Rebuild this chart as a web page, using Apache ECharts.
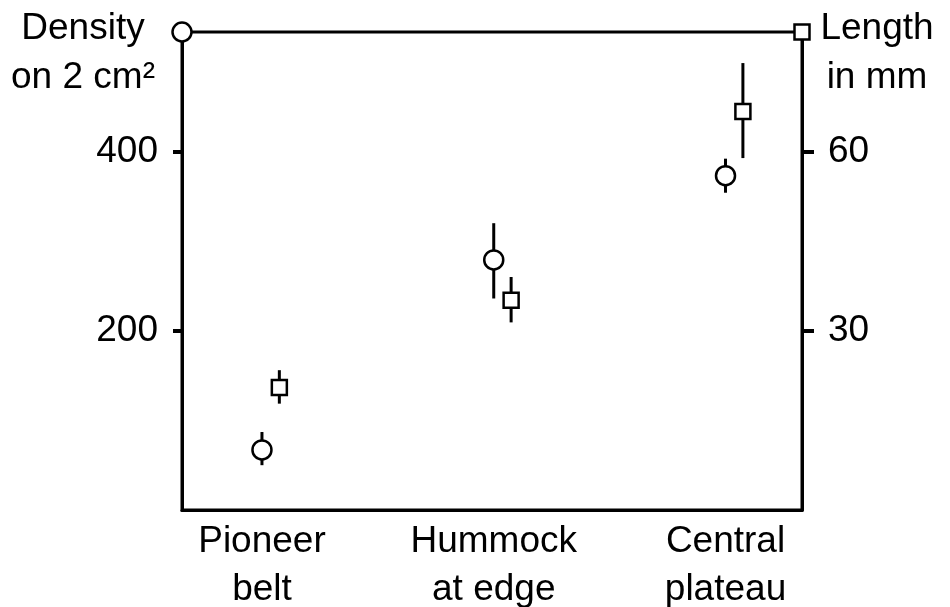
<!DOCTYPE html>
<html>
<head>
<meta charset="utf-8">
<script src="https://cdn.jsdelivr.net/npm/echarts@6/dist/echarts.min.js"></script>
<style>
  html, body { margin: 0; padding: 0; background: #fff; }
  #chart { width: 950px; height: 607px; }
</style>
</head>
<body>
<div id="chart"></div>
<script>
  // sites along the transect
  const categories = ['Pioneer\nbelt', 'Hummock\nat edge', 'Central\nplateau'];
  // density on 2 cm2 (circles), with error range
  const density = [67, 279, 373];
  const densityLow = [50, 236, 354];
  const densityHigh = [87, 320, 392];
  // length in mm (squares), with error range
  const lengthMm = [20.5, 35.1, 66.7];
  const lengthLow = [17.8, 31.4, 58.9];
  const lengthHigh = [23.4, 39.0, 74.8];
  const densityTicks = [200, 400];
  const lengthTicks = [30, 60];

  const X_MIN = -0.345, X_MAX = 2.33;
  const D_MAX = 533.33, L_MAX = 80;
  const SQ_OFFSET = 0.075; // squares sit a bit right of the circles
  const font = 'Liberation Sans, Arial, sans-serif';
  const fs = 37;

  const chart = echarts.init(document.getElementById('chart'));

  const errorBar = (params, api) => {
    const lo = api.coord([api.value(0), api.value(1)]);
    const hi = api.coord([api.value(0), api.value(2)]);
    return {
      type: 'line',
      shape: {x1: lo[0], y1: lo[1], x2: hi[0], y2: hi[1]},
      style: {stroke: '#000', lineWidth: 3}
    };
  };

  const yAxisBase = {
    type: 'value',
    min: 0,
    splitLine: {show: false},
    axisLine: {show: true, onZero: false, lineStyle: {color: '#000', width: 3}},
    axisTick: {show: true, inside: false, lineStyle: {color: '#000', width: 4}},
    axisLabel: {color: '#000', fontFamily: font, fontSize: fs}
  };

  chart.setOption({
    animation: false,
    backgroundColor: '#fff',
    grid: {
      left: 182, right: 148, top: 32, bottom: 97,
      outerBoundsMode: 'none',
      containLabel: false,
      show: true, borderColor: '#000', borderWidth: 3
    },
    xAxis: {
      type: 'value',
      min: X_MIN,
      max: X_MAX,
      splitLine: {show: false},
      axisLine: {show: true, onZero: false, lineStyle: {color: '#000', width: 3}},
      axisTick: {show: false},
      axisLabel: {
        customValues: [0, 1, 2],
        formatter: v => categories[Math.round(v)],
        color: '#000', fontFamily: font, fontSize: fs, lineHeight: 48, margin: 8
      }
    },
    yAxis: [
      Object.assign({}, yAxisBase, {
        position: 'left',
        max: D_MAX,
        axisTick: Object.assign({}, yAxisBase.axisTick, {length: 9, customValues: densityTicks}),
        axisLabel: Object.assign({}, yAxisBase.axisLabel, {customValues: densityTicks, margin: 24})
      }),
      Object.assign({}, yAxisBase, {
        position: 'right',
        max: L_MAX,
        axisTick: Object.assign({}, yAxisBase.axisTick, {length: 12, customValues: lengthTicks}),
        axisLabel: Object.assign({}, yAxisBase.axisLabel, {customValues: lengthTicks, margin: 26})
      })
    ],
    graphic: [
      {
        type: 'text', x: 83, y: 4,
        style: {text: 'Density\non 2 cm²', align: 'center', verticalAlign: 'top', fill: '#000',
          font: fs + 'px ' + font, lineHeight: 49}
      },
      {
        type: 'text', x: 877, y: 4,
        style: {text: 'Length\nin mm', align: 'center', verticalAlign: 'top', fill: '#000',
          font: fs + 'px ' + font, lineHeight: 49}
      }
    ],
    series: [
      {
        type: 'custom', name: 'density err', yAxisIndex: 0, z: 2,
        renderItem: errorBar,
        encode: {x: 0, y: [1, 2]},
        data: density.map((d, i) => [i, densityLow[i], densityHigh[i]])
      },
      {
        type: 'custom', name: 'length err', yAxisIndex: 1, z: 2,
        renderItem: errorBar,
        encode: {x: 0, y: [1, 2]},
        data: lengthMm.map((d, i) => [i + SQ_OFFSET, lengthLow[i], lengthHigh[i]])
      },
      {
        type: 'scatter', name: 'Density', yAxisIndex: 0, z: 3, clip: false,
        symbol: 'circle', symbolSize: 19,
        itemStyle: {color: '#fff', borderColor: '#000', borderWidth: 2.5, opacity: 1},
        // the last point is the key marker on the top-left corner
        data: density.map((d, i) => [i, d]).concat([[X_MIN, D_MAX]])
      },
      {
        type: 'scatter', name: 'Length', yAxisIndex: 1, z: 3, clip: false,
        symbol: 'rect', symbolSize: 15,
        itemStyle: {color: '#fff', borderColor: '#000', borderWidth: 2.5, opacity: 1},
        data: lengthMm.map((d, i) => [i + SQ_OFFSET, d]).concat([[X_MAX, L_MAX]])
      }
    ]
  });
</script>
</body>
</html>
